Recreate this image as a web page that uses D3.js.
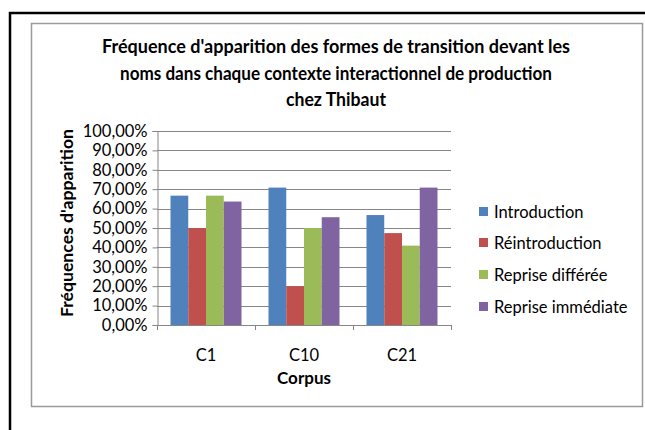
<!DOCTYPE html>
<html>
<head>
<meta charset="utf-8">
<title>Fréquence d'apparition - Thibaut</title>
<style>
    body { margin: 0; background: #fff; }
    text { font-family: Lato, "Open Sans", sans-serif; fill: #000; }
</style>
</head>
<body>
<div id="chart"></div>

<script src="https://d3js.org/d3.v7.min.js"></script>
<script>

// data
var categories = ["C1", "C10", "C21"];
var seriesNames = ["Introduction", "Réintroduction", "Reprise différée", "Reprise immédiate"];
var introduction = [66.67, 70.83, 56.67];
var reintroduction = [50.00, 20.00, 47.37];
var repriseDifferee = [66.67, 50.00, 40.91];
var repriseImmediate = [63.64, 55.56, 70.83];
var yTickValues = [0, 10, 20, 30, 40, 50, 60, 70, 80, 90, 100];
var titleLines = [
    "Fréquence d'apparition des formes de transition devant les",
    "noms dans chaque contexte interactionnel de production",
    "chez Thibaut"
];
var colors = ["#4F81BD", "#C0504D", "#9BBB59", "#8064A2"];

var seriesValues = [introduction, reintroduction, repriseDifferee, repriseImmediate];

var W = 645, H = 430;
var plot = {left: 157, right: 451, top: 131, bottom: 325};

var svg = d3.select("#chart").append("svg")
    .attr("width", W)
    .attr("height", H);

// outer black frame (only top and left visible)
svg.append("path")
    .attr("d", "M10,430 V13 H645")
    .attr("fill", "none")
    .attr("stroke", "#000")
    .attr("stroke-width", 2.5);

// chart area box
svg.append("rect")
    .attr("x", 31.5).attr("y", 23.5)
    .attr("width", 611).attr("height", 383)
    .attr("fill", "#fff")
    .attr("stroke", "#9a9a9a")
    .attr("stroke-width", 1.5);

// title
var title = svg.append("g");
var titleY = [53, 80, 106];
var titleW = [468, 432, 100];
titleLines.forEach(function(t, i) {
    title.append("text")
        .attr("x", 336)
        .attr("y", titleY[i])
        .attr("text-anchor", "middle")
        .attr("font-size", 18)
        .attr("font-weight", "bold")
        .attr("textLength", titleW[i])
        .attr("lengthAdjust", "spacingAndGlyphs")
        .text(t);
});

// scales
var x = d3.scaleBand()
    .domain(categories)
    .range([plot.left, plot.right])
    .paddingInner(0.2755)
    .paddingOuter(0.1378);

var xSub = d3.scaleBand()
    .domain(d3.range(seriesNames.length))
    .range([0, x.bandwidth()]);

var y = d3.scaleLinear()
    .domain([0, 100])
    .range([plot.bottom, plot.top]);

var locale = d3.formatLocale({decimal: ",", thousands: " ", grouping: [3], currency: ["", "€"]});
var fmt = locale.format(".2f");

// gridlines
svg.append("g")
    .selectAll("line")
    .data(yTickValues.filter(function(d) { return d > 0; }))
    .join("line")
    .attr("x1", plot.left).attr("x2", plot.right)
    .attr("y1", function(d) { return Math.round(y(d)) + 0.5; })
    .attr("y2", function(d) { return Math.round(y(d)) + 0.5; })
    .attr("stroke", "#868686")
    .attr("stroke-width", 1);

// y axis
var yAxis = svg.append("g")
    .attr("transform", "translate(" + (plot.left + 0.5) + ",0)")
    .call(d3.axisLeft(y)
        .tickValues(yTickValues)
        .tickSize(5)
        .tickPadding(5)
        .tickFormat(function(d) { return fmt(d) + "%"; }));
yAxis.select(".domain").attr("stroke", "#868686");
yAxis.selectAll(".tick line").attr("stroke", "#868686");
yAxis.selectAll(".tick text")
    .attr("font-family", "Lato, sans-serif")
    .attr("font-size", 16.5)
    .attr("fill", "#000");

// bars
var groups = svg.append("g")
    .selectAll("g")
    .data(categories)
    .join("g")
    .attr("transform", function(c) { return "translate(" + x(c) + ",0)"; });

groups.selectAll("rect")
    .data(function(c, ci) {
        return seriesValues.map(function(vals, si) { return {s: si, v: vals[ci]}; });
    })
    .join("rect")
    .attr("x", function(d) { return xSub(d.s); })
    .attr("y", function(d) { return y(d.v); })
    .attr("width", xSub.bandwidth())
    .attr("height", function(d) { return y(0) - y(d.v); })
    .attr("fill", function(d) { return colors[d.s]; });

// x axis
var step = x.step();
var edges = categories.map(function(c) { return x(c) - (step - x.bandwidth()) / 2; });
edges.push(plot.right);

var xAxis = svg.append("g");
xAxis.append("line")
    .attr("x1", plot.left).attr("x2", plot.right)
    .attr("y1", plot.bottom + 0.5).attr("y2", plot.bottom + 0.5)
    .attr("stroke", "#868686");
xAxis.selectAll(".edge")
    .data(edges)
    .join("line")
    .attr("class", "edge")
    .attr("x1", function(d) { return Math.round(d) + 0.5; })
    .attr("x2", function(d) { return Math.round(d) + 0.5; })
    .attr("y1", plot.bottom).attr("y2", plot.bottom + 5)
    .attr("stroke", "#868686");
xAxis.selectAll(".lbl")
    .data(categories)
    .join("text")
    .attr("class", "lbl")
    .attr("x", function(c) { return x(c) + x.bandwidth() / 2; })
    .attr("y", 361)
    .attr("text-anchor", "middle")
    .attr("font-size", 16.5)
    .text(function(c) { return c; });

// axis titles
svg.append("text")
    .attr("x", 304).attr("y", 384)
    .attr("text-anchor", "middle")
    .attr("font-size", 17)
    .attr("font-weight", "bold")
    .text("Corpus");

svg.append("text")
    .attr("transform", "translate(73,223) rotate(-90)")
    .attr("text-anchor", "middle")
    .attr("font-size", 17)
    .attr("font-weight", "bold")
    .attr("textLength", 188)
    .attr("lengthAdjust", "spacingAndGlyphs")
    .text("Fréquences d'apparition");

// legend
var legendY = [212, 243, 275, 307];
var legend = svg.append("g")
    .selectAll("g")
    .data(seriesNames)
    .join("g")
    .attr("transform", function(d, i) { return "translate(479," + legendY[i] + ")"; });
legend.append("rect")
    .attr("x", 0).attr("y", -5)
    .attr("width", 9).attr("height", 9)
    .attr("fill", function(d, i) { return colors[i]; });
legend.append("text")
    .attr("x", 15).attr("y", 6)
    .attr("font-size", 16.5)
    .text(function(d) { return d; });

</script>
</body>
</html>
